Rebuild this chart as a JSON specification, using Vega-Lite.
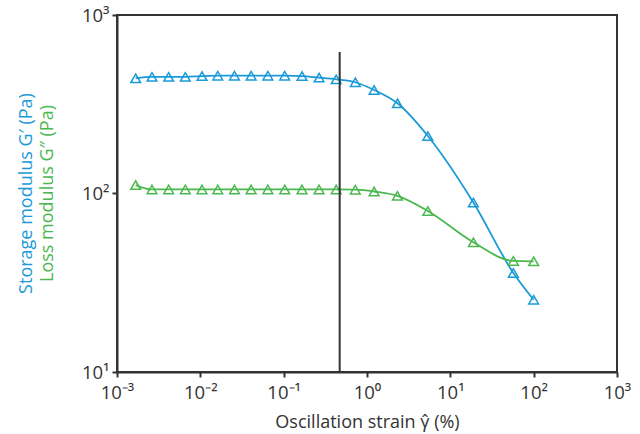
{
  "$schema": "https://vega.github.io/schema/vega-lite/v6.json",
  "width": 500,
  "height": 357,
  "autosize": "none",
  "padding": {"left": 117, "top": 15, "right": 23, "bottom": 62},
  "background": "white",
  "config": {
    "view": {"stroke": "#333333", "strokeWidth": 2},
    "font": "Open Sans",
    "axis": {"labelFont": "Open Sans", "titleFont": "Open Sans", "labelColor": "#333333", "titleColor": "#333333", "labelFontSize": 18.5, "titleFontSize": 18, "titleFontWeight": "normal", "grid": false, "domainColor": "#333333", "domainWidth": 2, "tickColor": "#333333", "tickWidth": 2, "tickSize": 5}
  },
  "datasets": {
    "gp": [
      {"strain": 0.001675, "modulus": 442},
      {"strain": 0.00263, "modulus": 450},
      {"strain": 0.00417, "modulus": 450},
      {"strain": 0.00661, "modulus": 450},
      {"strain": 0.01047, "modulus": 455},
      {"strain": 0.0162, "modulus": 457},
      {"strain": 0.0257, "modulus": 457},
      {"strain": 0.0407, "modulus": 457},
      {"strain": 0.0646, "modulus": 457},
      {"strain": 0.103, "modulus": 457},
      {"strain": 0.166, "modulus": 455},
      {"strain": 0.266, "modulus": 446},
      {"strain": 0.427, "modulus": 436},
      {"strain": 0.724, "modulus": 420},
      {"strain": 1.216, "modulus": 380},
      {"strain": 2.32, "modulus": 320},
      {"strain": 5.37, "modulus": 210},
      {"strain": 18.9, "modulus": 89},
      {"strain": 57.1, "modulus": 35.9},
      {"strain": 100, "modulus": 25.4}
    ],
    "gpp": [
      {"strain": 0.001675, "modulus": 111.5},
      {"strain": 0.00263, "modulus": 105.4},
      {"strain": 0.00417, "modulus": 105.4},
      {"strain": 0.00661, "modulus": 105.4},
      {"strain": 0.01047, "modulus": 105.4},
      {"strain": 0.0162, "modulus": 105.4},
      {"strain": 0.0257, "modulus": 105.4},
      {"strain": 0.0407, "modulus": 105.4},
      {"strain": 0.0646, "modulus": 105.4},
      {"strain": 0.103, "modulus": 105.4},
      {"strain": 0.166, "modulus": 105.4},
      {"strain": 0.266, "modulus": 105.4},
      {"strain": 0.427, "modulus": 105.4},
      {"strain": 0.724, "modulus": 105},
      {"strain": 1.216, "modulus": 102.6},
      {"strain": 2.32, "modulus": 97},
      {"strain": 5.37, "modulus": 79.8},
      {"strain": 18.9, "modulus": 53.3},
      {"strain": 57.1, "modulus": 41.9},
      {"strain": 100, "modulus": 41.7}
    ],
    "marker": [{"strain": 0.47, "top": 620, "bottom": 10}]
  },
  "layer": [
    {
      "data": {"name": "gp"},
      "encoding": {
        "x": {"field": "strain", "type": "quantitative",
          "scale": {"type": "log", "domain": [0.001, 1000], "nice": false},
          "axis": {"title": "Oscillation strain γ̂ (%)", "values": [0.001, 0.01, 0.1, 1, 10, 100, 1000],
            "labelExpr": "{'0.001':'10⁻³','0.01':'10⁻²','0.1':'10⁻¹','1':'10⁰','10':'10¹','100':'10²','1000':'10³'}[datum.value + '']",
            "labelPadding": 6, "titlePadding": 12, "labelFlush": false}},
        "y": {"field": "modulus", "type": "quantitative",
          "scale": {"type": "log", "domain": [10, 1000], "nice": false},
          "axis": {"title": "Storage modulus G′ (Pa)", "titleColor": "#1b9ad7", "values": [10, 100, 1000],
            "labelExpr": "{'10':'10¹','100':'10²','1000':'10³'}[datum.value + '']",
            "labelPadding": 3, "labelFlush": false, "titleX": -91, "titleY": 178, "titleBaseline": "middle", "titleAngle": -90}}
      },
      "layer": [
        {"mark": {"type": "line", "interpolate": "monotone", "color": "#1b9ad7", "strokeWidth": 1.8}},
        {"mark": {"type": "point", "shape": "triangle-up", "filled": false, "color": "#1b9ad7", "strokeWidth": 1.5, "size": 95, "opacity": 1}}
      ]
    },
    {
      "data": {"name": "gpp"},
      "encoding": {
        "x": {"field": "strain", "type": "quantitative"},
        "y": {"field": "modulus", "type": "quantitative",
          "axis": {"orient": "left", "title": "Loss modulus G″ (Pa)", "titleColor": "#4bb84e", "labels": false, "ticks": false, "domain": false,
            "titleX": -70, "titleY": 178, "titleBaseline": "middle", "titleAngle": -90}}
      },
      "layer": [
        {"mark": {"type": "line", "interpolate": "monotone", "color": "#4bb84e", "strokeWidth": 1.8}},
        {"mark": {"type": "point", "shape": "triangle-up", "filled": false, "color": "#4bb84e", "strokeWidth": 1.5, "size": 95, "opacity": 1}}
      ]
    },
    {
      "data": {"name": "marker"},
      "mark": {"type": "rule", "color": "#333333", "strokeWidth": 2},
      "encoding": {
        "x": {"field": "strain", "type": "quantitative"},
        "y": {"field": "top", "type": "quantitative", "axis": null},
        "y2": {"field": "bottom"}
      }
    }
  ],
  "resolve": {"axis": {"y": "independent"}}
}
